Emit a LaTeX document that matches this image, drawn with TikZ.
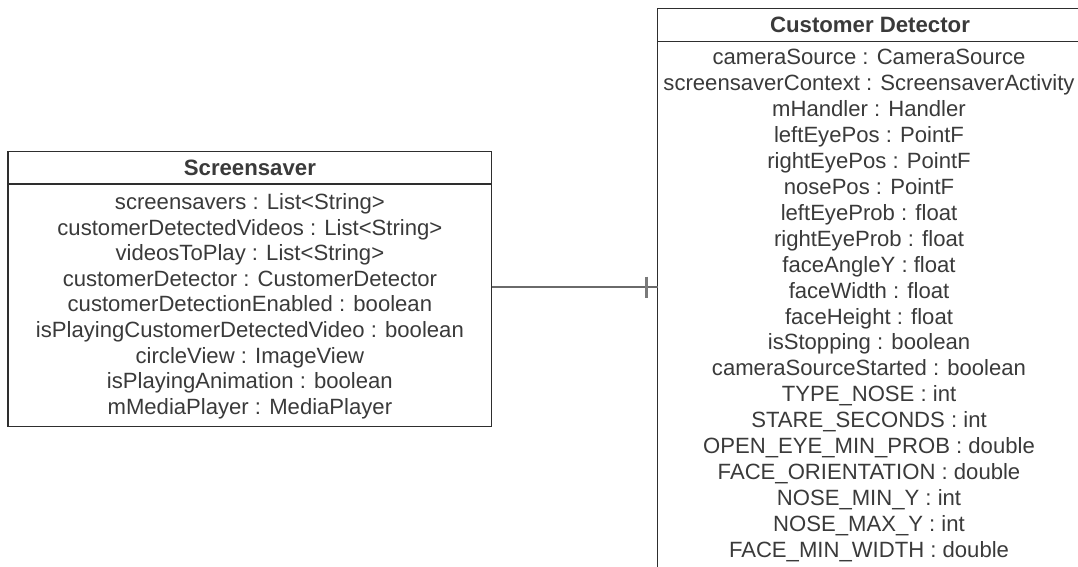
\documentclass[tikz,border=0pt]{standalone}
\usepackage{fontspec}
\setmainfont{Liberation Sans}
\definecolor{boxline}{HTML}{2E2E2E}
\definecolor{txt}{HTML}{3A3A3A}
\definecolor{conn}{HTML}{6A6A6A}
\definecolor{tick}{HTML}{7A7A7A}
\begin{document}
\begin{tikzpicture}[x=1pt,y=-1pt,
  box/.style={draw=boxline, line width=1.3pt, inner sep=0pt, outer sep=0pt, anchor=north west},
  title/.style={font=\fontsize{22.2}{24}\selectfont\bfseries, text=txt, anchor=base, inner sep=0pt},
  attr/.style={font=\fontsize{22.1}{24}\selectfont, text=txt, anchor=base, inner sep=0pt},
  assoc/.style={draw=conn, line width=2pt},
  onemark/.style={draw=tick, line width=3pt}]
\useasboundingbox (0,0) rectangle (1078,567);
\clip (0,0) rectangle (1078,567);
\fill[white] (0,0) rectangle (1078,567);

% connector levels
\coordinate (lvl) at (0,287);
\coordinate (tk) at (646,287);

% Screensaver class
\node[box, minimum width=483.7pt, minimum height=32.3pt] (sh) at (8,151.7) {};
\node[box, minimum width=483.7pt, minimum height=242.7pt] (sb) at (8,184) {};
\node[title] (sht) at (249.9,175) {Screensaver};
\foreach \t [count=\i from 0] in {
  screensavers : List<String>,
  customerDetectedVideos : List<String>,
  videosToPlay : List<String>,
  customerDetector : CustomerDetector,
  customerDetectionEnabled : boolean,
  isPlayingCustomerDetectedVideo : boolean,
  circleView : ImageView,
  isPlayingAnimation : boolean,
  mMediaPlayer : MediaPlayer}
  \node[attr] (sa\i) at (249.9, 209.5+\i*25.6) {\t};

% Customer Detector class
\node[box, minimum width=428.6pt, minimum height=33.4pt] (dh) at (657.7,8.3) {};
\node[box, minimum width=428.6pt, minimum height=600pt] (db) at (657.7,41.7) {};
\node[title] (dht) at (870,33) {Customer Detector};
\foreach \t [count=\i from 0] in {
  cameraSource : CameraSource,
  screensaverContext : ScreensaverActivity,
  mHandler : Handler,
  leftEyePos : PointF,
  rightEyePos : PointF,
  nosePos : PointF,
  leftEyeProb : float,
  rightEyeProb : float,
  faceAngleY : float,
  faceWidth : float,
  faceHeight : float,
  isStopping : boolean,
  cameraSourceStarted : boolean,
  TYPE\_NOSE : int,
  STARE\_SECONDS : int,
  OPEN\_EYE\_MIN\_PROB : double,
  FACE\_ORIENTATION : double,
  NOSE\_MIN\_Y : int,
  NOSE\_MAX\_Y : int,
  FACE\_MIN\_WIDTH : double}
  \node[attr] (da\i) at (869, 64.5+\i*25.95) {\t};

\draw[assoc] (sb.east |- lvl) -- (db.west |- lvl);
\draw[onemark] (tk) ++(0,-10.5) -- ++(0,21);
\end{tikzpicture}
\end{document}
